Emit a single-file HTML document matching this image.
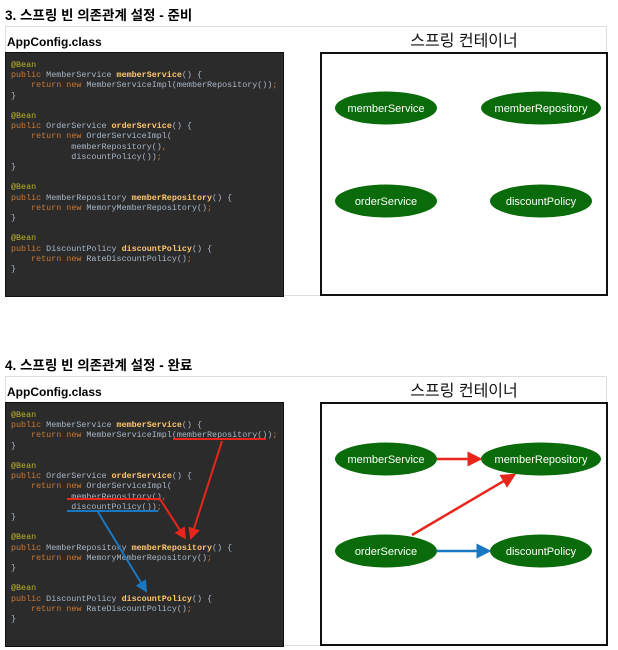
<!DOCTYPE html>
<html><head><meta charset="utf-8"><style>
body{margin:0;width:618px;height:650px;background:#fff;position:relative;overflow:hidden;font-family:"Liberation Sans","Noto Sans CJK KR",sans-serif}
.h{position:absolute;left:5px;font-weight:bold;font-size:13.5px;color:#000}
.outer{position:absolute;left:5px;width:602px;height:270px;border:1px solid #ddd;box-sizing:border-box}
.ac{position:absolute;left:7px;font-weight:bold;font-size:12px}
.code{position:absolute;left:5px;width:279px;height:245px;background:#2b2b2b;border:1px solid #111;box-sizing:border-box}
pre{margin:0;position:absolute;left:5px;top:7px;font-family:"Liberation Mono",monospace;font-size:8.4px;line-height:10.2px;color:#a9b7c6}
.a{color:#bbb529}.k{color:#cc7832}.m{color:#ffc66d;font-weight:bold}
.ct{position:absolute;left:320px;width:288px;height:244px;border:2px solid #111;box-sizing:border-box}
.tt{position:absolute;left:320px;width:288px;text-align:center;font-size:16px;color:#111}
svg{position:absolute;left:0;top:0}
</style></head><body>
<div class="h" style="top:4px">3. 스프링 빈 의존관계 설정 - 준비</div>
<div class="outer" style="top:26px"></div>
<div class="ac" style="top:35px">AppConfig.class</div>
<div class="tt" style="top:27px">스프링 컨테이너</div>
<div class="code" style="top:52px"><pre><span class="a">@Bean</span>
<span class="k">public</span> MemberService <span class="m">memberService</span>() {
    <span class="k">return new</span> MemberServiceImpl(memberRepository())<span class="k">;</span>
}

<span class="a">@Bean</span>
<span class="k">public</span> OrderService <span class="m">orderService</span>() {
    <span class="k">return new</span> OrderServiceImpl(
            memberRepository()<span class="k">,</span>
            discountPolicy())<span class="k">;</span>
}

<span class="a">@Bean</span>
<span class="k">public</span> MemberRepository <span class="m">memberRepository</span>() {
    <span class="k">return new</span> MemoryMemberRepository()<span class="k">;</span>
}

<span class="a">@Bean</span>
<span class="k">public</span> DiscountPolicy <span class="m">discountPolicy</span>() {
    <span class="k">return new</span> RateDiscountPolicy()<span class="k">;</span>
}</pre></div>
<div class="ct" style="top:52px"></div>

<div class="h" style="top:354px">4. 스프링 빈 의존관계 설정 - 완료</div>
<div class="outer" style="top:376px"></div>
<div class="ac" style="top:385px">AppConfig.class</div>
<div class="tt" style="top:377px">스프링 컨테이너</div>
<div class="code" style="top:402px"><pre><span class="a">@Bean</span>
<span class="k">public</span> MemberService <span class="m">memberService</span>() {
    <span class="k">return new</span> MemberServiceImpl(memberRepository())<span class="k">;</span>
}

<span class="a">@Bean</span>
<span class="k">public</span> OrderService <span class="m">orderService</span>() {
    <span class="k">return new</span> OrderServiceImpl(
            memberRepository()<span class="k">,</span>
            discountPolicy())<span class="k">;</span>
}

<span class="a">@Bean</span>
<span class="k">public</span> MemberRepository <span class="m">memberRepository</span>() {
    <span class="k">return new</span> MemoryMemberRepository()<span class="k">;</span>
}

<span class="a">@Bean</span>
<span class="k">public</span> DiscountPolicy <span class="m">discountPolicy</span>() {
    <span class="k">return new</span> RateDiscountPolicy()<span class="k">;</span>
}</pre></div>
<div class="ct" style="top:402px"></div>

<svg width="618" height="650" font-family="Liberation Sans, sans-serif" font-size="11" fill="#fff" text-anchor="middle">
<defs>
<marker id="r" markerWidth="6" markerHeight="6" refX="5" refY="3" orient="auto" markerUnits="strokeWidth"><path d="M0,0 L6,3 L0,6 Z" fill="#e8261b"/></marker>
<marker id="b" markerWidth="6" markerHeight="6" refX="5" refY="3" orient="auto" markerUnits="strokeWidth"><path d="M0,0 L6,3 L0,6 Z" fill="#1a78c2"/></marker>
</defs>
<g>
<ellipse cx="386" cy="108" rx="51" ry="16.5" fill="#0a6b0a"/><text x="386" y="112">memberService</text>
<ellipse cx="541" cy="108" rx="60" ry="16.5" fill="#0a6b0a"/><text x="541" y="112">memberRepository</text>
<ellipse cx="386" cy="201" rx="51" ry="16.5" fill="#0a6b0a"/><text x="386" y="205">orderService</text>
<ellipse cx="541" cy="201" rx="51" ry="16.5" fill="#0a6b0a"/><text x="541" y="205">discountPolicy</text>
</g>
<g>
<line x1="437" y1="459" x2="480" y2="459" stroke="#e8261b" stroke-width="2.5" marker-end="url(#r)"/>
<line x1="412" y1="535" x2="514" y2="475" stroke="#e8261b" stroke-width="2.5" marker-end="url(#r)"/>
<line x1="437" y1="551" x2="489" y2="551" stroke="#1a78c2" stroke-width="2.5" marker-end="url(#b)"/>
<ellipse cx="386" cy="459" rx="51" ry="16.5" fill="#0a6b0a"/><text x="386" y="463">memberService</text>
<ellipse cx="541" cy="459" rx="60" ry="16.5" fill="#0a6b0a"/><text x="541" y="463">memberRepository</text>
<ellipse cx="386" cy="551" rx="51" ry="16.5" fill="#0a6b0a"/><text x="386" y="555">orderService</text>
<ellipse cx="541" cy="551" rx="51" ry="16.5" fill="#0a6b0a"/><text x="541" y="555">discountPolicy</text>
</g>
<g stroke-width="2" fill="none">
<line x1="173" y1="439" x2="266" y2="439" stroke="#e8261b"/>
<line x1="222" y1="441" x2="191" y2="538" stroke="#e8261b" marker-end="url(#r)"/>
<line x1="67" y1="499" x2="160" y2="499" stroke="#e8261b"/>
<line x1="160" y1="499" x2="185" y2="538" stroke="#e8261b" marker-end="url(#r)"/>
<line x1="67" y1="511" x2="158" y2="511" stroke="#1a78c2"/>
<line x1="98" y1="512" x2="146" y2="591" stroke="#1a78c2" marker-end="url(#b)"/>
</g>
</svg>
</body></html>
